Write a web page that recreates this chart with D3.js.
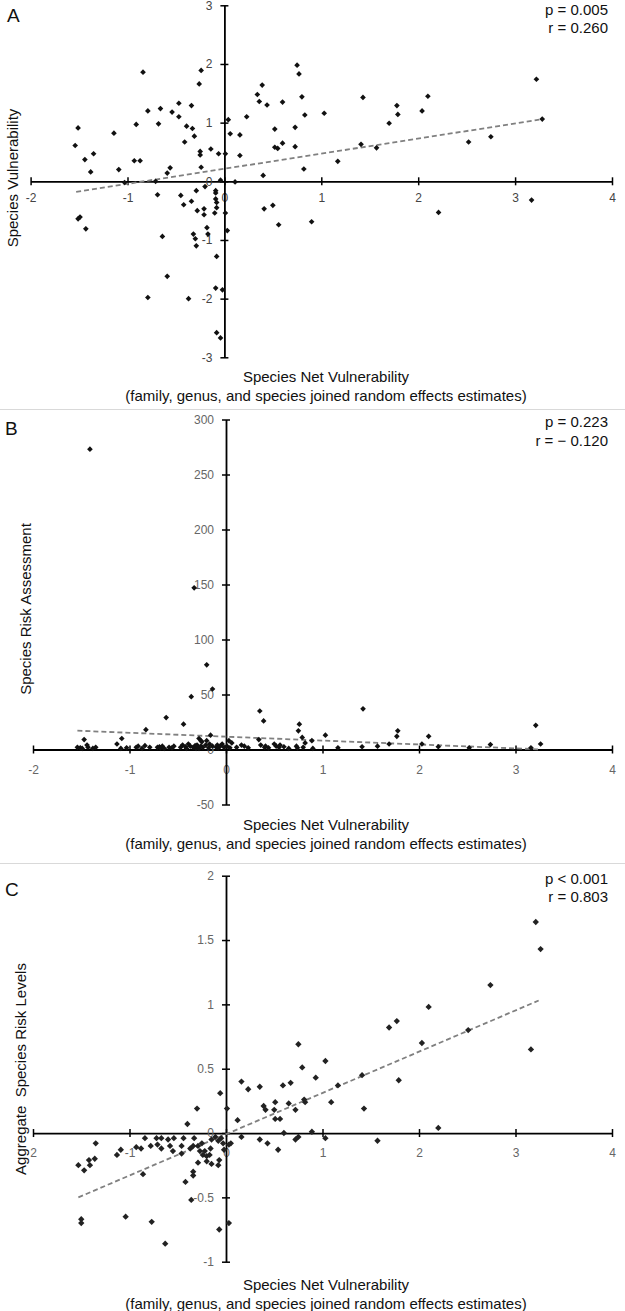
<!DOCTYPE html>
<html><head><meta charset="utf-8">
<script src="https://cdn.jsdelivr.net/npm/d3@7"></script>
<style>body{margin:0;background:#fff} svg{display:block} text{font-family:"Liberation Sans",Arial,sans-serif}</style>
</head><body><svg id="c" width="625" height="1311"></svg>
<script>
// ---------- data ----------
const xTicks = [-2,-1,0,1,2,3,4];
const xTickLabelsAB = ["-2","-1","0","1","2","3","4"];
const xTickLabelsC = ["2","-1","0","1","2","3","4"];
const yTicksA = [-3,-2,-1,0,1,2,3];
const yTickLabelsA = ["-3","-2","-1","0","1","2","3"];
const yTicksB = [-50,0,50,100,150,200,250,300];
const yTickLabelsB = ["-50","0","50","100","150","200","250","300"];
const yTicksC = [-1,-0.5,0,0.5,1,1.5,2];
const yTickLabelsC = ["-1","-0.5","0","0.5","1","1.5","2"];

const panelLetters = ["A","B","C"];
const statsA = ["p = 0.005","r = 0.260"];
const statsB = ["p = 0.223","r = \u2212 0.120"];
const statsC = ["p < 0.001","r = 0.803"];
const yTitles = ["Species Vulnerability","Species Risk Assessment","Aggregate  Species Risk Levels"];
const xTitleLines = ["Species Net Vulnerability","(family, genus, and species joined random effects estimates)"];

const pointsA = [
[-1.51,0.91],[-1.54,0.61],[-1.44,0.37],[-1.35,0.47],[-1.38,0.16],[-1.14,0.82],[-1.09,0.20],[-1.03,-0.02],
[-0.84,1.86],[-0.91,0.97],[-0.79,1.20],[-0.93,0.35],[-0.87,0.35],[-0.71,0.00],[-0.66,1.24],[-0.68,0.98],
[-0.54,1.18],[-0.47,1.33],[-0.47,1.10],[-0.39,0.94],[-0.41,0.67],[-0.56,0.23],[-0.59,0.14],[-0.34,1.29],
[-0.33,0.90],[-0.31,0.77],[-0.24,1.89],[-0.26,1.66],[-0.25,0.51],[-0.25,0.45],[-0.24,0.24],[-0.14,0.55],
[-0.06,0.47],[0.01,0.47],[0.04,1.05],[0.06,0.81],[0.16,0.79],[0.16,0.44],[0.23,1.10],[0.34,1.48],
[0.36,1.36],[0.39,1.64],[0.44,1.30],[0.40,0.10],[-0.04,0.02],[0.11,-0.01],
[0.60,1.35],[0.52,0.89],[0.52,0.58],[0.55,0.56],[0.60,0.65],[0.73,0.92],[0.73,0.59],[0.75,1.98],
[0.77,1.83],[0.80,1.44],[0.83,1.13],[0.82,0.21],[1.03,1.16],[1.17,0.34],[1.43,1.43],[1.41,0.63],
[1.57,0.57],[1.70,0.99],[1.78,1.29],[1.79,1.14],[2.04,1.20],[2.10,1.45],[2.52,0.67],[2.75,0.76],
[3.22,1.74],[3.28,1.06],
[-1.51,-0.64],[-1.49,-0.61],[-1.43,-0.81],[-0.69,-0.23],[-0.45,-0.24],[-0.42,-0.40],[-0.34,-0.34],[-0.29,-0.16],
[-0.28,-0.50],[-0.20,-0.09],[-0.21,-0.47],[-0.21,-0.57],[-0.09,-0.16],[-0.09,-0.20],[-0.09,-0.30],[-0.08,-0.36],
[-0.08,-0.45],[-0.10,-0.54],[0.01,-0.54],[0.03,-0.84],[-0.64,-0.94],[-0.32,-0.90],[-0.30,-0.98],[-0.29,-1.10],
[-0.18,-0.79],[-0.17,-0.90],[-0.08,-1.28],[-0.59,-1.62],[-0.79,-1.98],[-0.37,-2.00],[-0.09,-1.82],[-0.02,-1.85],
[-0.08,-2.58],[-0.04,-2.67],[0.41,-0.47],[0.50,-0.41],[0.56,-0.74],[0.90,-0.69],[2.21,-0.53],[3.17,-0.32]
];

const pointsB = [
[-1.41,273],[-0.33,147],[-0.20,77],[-0.14,55],[-0.36,48],[-0.62,29],[-0.44,23],[-0.83,18],[-0.16,13],
[-1.47,9],[-1.08,10],[-0.28,10],[-0.26,8],[-0.25,7],[-0.20,8],[0.35,35],[0.39,26],[0.34,9],[0.76,23],
[0.75,17],[0.79,11],[0.82,6],[0.89,8],[1.03,13],[1.42,37],[1.78,17],[1.77,12],[2.10,12],[3.21,22],
[0.03,8],[0.06,6],[-1.13,5],[1.69,5],[2.03,5],[3.26,5],[2.74,4.5],
[-1.54,2],[-1.51,1.5],[-1.44,4],[-1.38,1],[-1.35,2],[-1.49,1],[-1.43,2],[-1.09,1],[-1.03,1.5],[-0.93,2],
[-0.91,3],[-0.87,1],[-0.84,3.5],[-0.79,2],[-0.71,2],[-0.69,2.5],[-0.68,1.5],[-0.66,3],[-0.64,1],[-0.59,2],
[-0.56,1.5],[-0.54,3],[-0.47,2],[-0.45,4],[-0.42,2.5],[-0.41,1],[-0.39,5],[-0.37,3],[-0.34,2],[-0.32,3.5],
[-0.31,1],[-0.30,4],[-0.29,2],[-0.28,1],[-0.26,3],[-0.24,2],[-0.21,4],[-0.18,1.5],[-0.17,5],[-0.14,3],
[-0.10,2],[-0.09,4],[-0.08,1.5],[-0.06,3],[-0.04,5],[-0.02,2],[0.01,3],[0.04,1.5],[0.11,2],[0.16,4],
[0.19,3],[0.23,1.5],[0.36,4],[0.40,2],[0.41,3],[0.44,1.5],[0.50,5],[0.52,3],[0.55,2],[0.56,4],
[0.60,2.5],[0.65,1],[0.73,3],[0.74,1.5],[0.80,2],[0.90,1],[1.16,1.5],[1.41,2.5],[1.57,3],[2.20,2.5],
[2.52,1.5],[3.16,1.5]
];

const pointsC = [
[3.21,1.64],[3.26,1.43],[2.74,1.15],[2.10,0.98],[1.77,0.87],[1.69,0.82],[2.51,0.80],[3.16,0.65],[2.03,0.70],
[1.79,0.41],[1.43,0.19],[1.41,0.45],[0.75,0.69],[0.79,0.51],[1.03,0.56],[0.93,0.43],[1.16,0.37],[1.09,0.24],
[0.81,0.26],[0.82,0.24],[0.72,0.18],[0.67,0.39],[0.59,0.37],[0.65,0.23],[0.51,0.24],[0.50,0.18],[0.51,0.11],
[0.56,0.11],[0.39,0.21],[0.41,0.18],[0.35,0.36],[0.23,0.34],[0.16,0.40],[0.12,0.10],[0.01,0.19],[-0.06,0.31],
[-0.30,0.19],[-0.40,0.07],[2.20,0.04],
[0.16,-0.03],[0.35,-0.05],[0.43,-0.08],[0.54,-0.13],[0.60,0.00],[0.72,-0.05],[0.75,-0.03],[0.89,0.01],
[1.03,-0.04],[1.57,-0.06],
[-1.35,-0.08],[-1.53,-0.25],[-1.47,-0.29],[-1.42,-0.21],[-1.41,-0.25],[-1.36,-0.20],[-1.13,-0.17],[-1.09,-0.13],
[-0.93,-0.11],[-0.88,-0.12],[-0.84,-0.04],[-0.78,-0.10],[-0.86,-0.32],[-0.72,-0.04],[-0.71,-0.09],[-0.67,-0.04],
[-0.67,-0.12],[-0.60,-0.05],[-0.58,-0.10],[-0.55,-0.14],[-0.54,-0.04],[-0.46,-0.10],[-0.44,-0.04],[-0.46,-0.16],
[-0.37,-0.12],[-0.33,-0.04],[-0.34,-0.10],[-0.29,-0.10],[-0.27,-0.14],[-0.25,-0.08],[-0.29,-0.23],[-0.24,-0.17],
[-0.22,-0.14],[-0.20,-0.18],[-0.17,-0.17],[-0.16,-0.12],[-0.20,-0.22],[-0.15,-0.24],[-0.08,-0.25],[-0.07,-0.21],
[-0.15,-0.05],[-0.11,-0.03],[-0.08,-0.06],[-0.05,-0.04],[-0.03,-0.08],[0.03,-0.09],[0.05,-0.08],[-0.02,-0.13],
[-0.34,-0.30],[-0.34,-0.33],[-0.42,-0.38],[-0.36,-0.52],[-1.50,-0.67],[-1.50,-0.70],[-1.04,-0.65],[-0.77,-0.69],
[-0.63,-0.86],[-0.07,-0.75],[0.03,-0.70]
];

const trendA = [[-1.53,-0.18],[3.25,1.05]];
const trendB = [[-1.54,17.1],[3.26,0.1]];
const trendC = [[-1.53,-0.50],[3.24,1.03]];

// ---------- drawing ----------
const svg = d3.select("#c");
const FONT = '"Liberation Sans", Arial, sans-serif';

// panel separators
[409.5, 863.5].forEach(yy => svg.append("line").attr("x1",0).attr("x2",625).attr("y1",yy).attr("y2",yy)
  .attr("stroke","#d9d9d9").attr("stroke-width",1.2));

const panels = [
  {letter:panelLetters[0], stats:statsA, pts:pointsA, trend:trendA, yTicks:yTicksA, yLabels:yTickLabelsA,
   xLabels:xTickLabelsAB, xr:[30.6,612], yd:[-3,3], yr:[357.3,5.3], xPad:8.5, tickColor:"#444",
   letterPos:[7,22], statY:[15,33], yTitle:yTitles[0], yTitlePos:[12.5,178], xTitleY:[382,401], ms:16, mc:"#111"},
  {letter:panelLetters[1], stats:statsB, pts:pointsB, trend:trendB, yTicks:yTicksB, yLabels:yTickLabelsB,
   xLabels:xTickLabelsAB, xr:[33,612], yd:[-50,300], yr:[804.5,419.5], xPad:12, tickColor:"#666",
   letterPos:[5,435], statY:[427,446], yTitle:yTitles[1], yTitlePos:[26,609], xTitleY:[830,849], ms:16, mc:"#111"},
  {letter:panelLetters[2], stats:statsC, pts:pointsC, trend:trendC, yTicks:yTicksC, yLabels:yTickLabelsC,
   xLabels:xTickLabelsC, xr:[33,612], yd:[-1,2], yr:[1261.7,875.7], xPad:11.5, tickColor:"#666",
   letterPos:[5,896], statY:[884,902], yTitle:yTitles[2], yTitlePos:[20.5,1069], xTitleY:[1290,1309], ms:20, mc:"#222"}
];

panels.forEach(p => {
  const x = d3.scaleLinear().domain([-2,4]).range(p.xr);
  const y = d3.scaleLinear().domain(p.yd).range(p.yr);
  const g = svg.append("g");

  // x axis
  const xa = d3.axisBottom(x).tickValues(xTicks).tickFormat((d,i)=>p.xLabels[i])
    .tickSizeInner(4).tickSizeOuter(0).tickPadding(p.xPad);
  const gx = g.append("g").attr("transform",`translate(0,${y(0)})`).call(xa)
    .attr("font-family",FONT).attr("font-size",12);
  gx.select(".domain").attr("stroke","#000").attr("stroke-width",1.8);
  gx.selectAll(".tick line").attr("y1",-4).attr("y2",4).attr("stroke","#000").attr("stroke-width",1.5);
  gx.selectAll(".tick text").attr("fill",p.tickColor);

  // y axis
  const ya = d3.axisLeft(y).tickValues(p.yTicks).tickFormat((d,i)=>p.yLabels[i])
    .tickSizeInner(4).tickSizeOuter(0).tickPadding(8);
  const gy = g.append("g").attr("transform",`translate(${x(0)},0)`).call(ya)
    .attr("font-family",FONT).attr("font-size",12);
  gy.select(".domain").attr("stroke","#000").attr("stroke-width",1.8);
  gy.selectAll(".tick line").attr("x1",-4).attr("x2",4).attr("stroke","#000").attr("stroke-width",1.5);
  gy.selectAll(".tick text").attr("fill",p.tickColor);

  // trend line
  g.append("path").datum(p.trend)
    .attr("d", d3.line().x(d=>x(d[0])).y(d=>y(d[1])))
    .attr("fill","none").attr("stroke","#808080").attr("stroke-width",1.8).attr("stroke-dasharray","5,3");

  // points
  const sym = d3.symbol().type(d3.symbolSquare).size(p.ms);
  g.append("g").selectAll("path").data(p.pts).join("path")
    .attr("d", sym)
    .attr("transform", d=>`translate(${x(d[0])},${y(d[1])}) rotate(45)`)
    .attr("fill", p.mc);

  // panel letter
  g.append("text").attr("x",p.letterPos[0]).attr("y",p.letterPos[1]).text(p.letter)
    .attr("font-size",19).attr("fill","#111").attr("font-family",FONT);
  // stats
  p.stats.forEach((s,i)=> g.append("text").attr("x",608).attr("y",p.statY[i]).attr("text-anchor","end")
    .attr("font-size",15).attr("fill","#111").attr("font-family",FONT).text(s));
  // y title
  g.append("text").attr("transform",`translate(${p.yTitlePos[0]},${p.yTitlePos[1]}) rotate(-90)`)
    .attr("text-anchor","middle").attr("dy","0.35em").attr("font-size",15).attr("fill","#111")
    .attr("font-family",FONT).attr("xml:space","preserve").text(p.yTitle);
  // x title
  xTitleLines.forEach((t,i)=> g.append("text").attr("x",326).attr("y",p.xTitleY[i]).attr("text-anchor","middle")
    .attr("font-size",15).attr("fill","#111").attr("font-family",FONT).text(t));
});
</script></body></html>
